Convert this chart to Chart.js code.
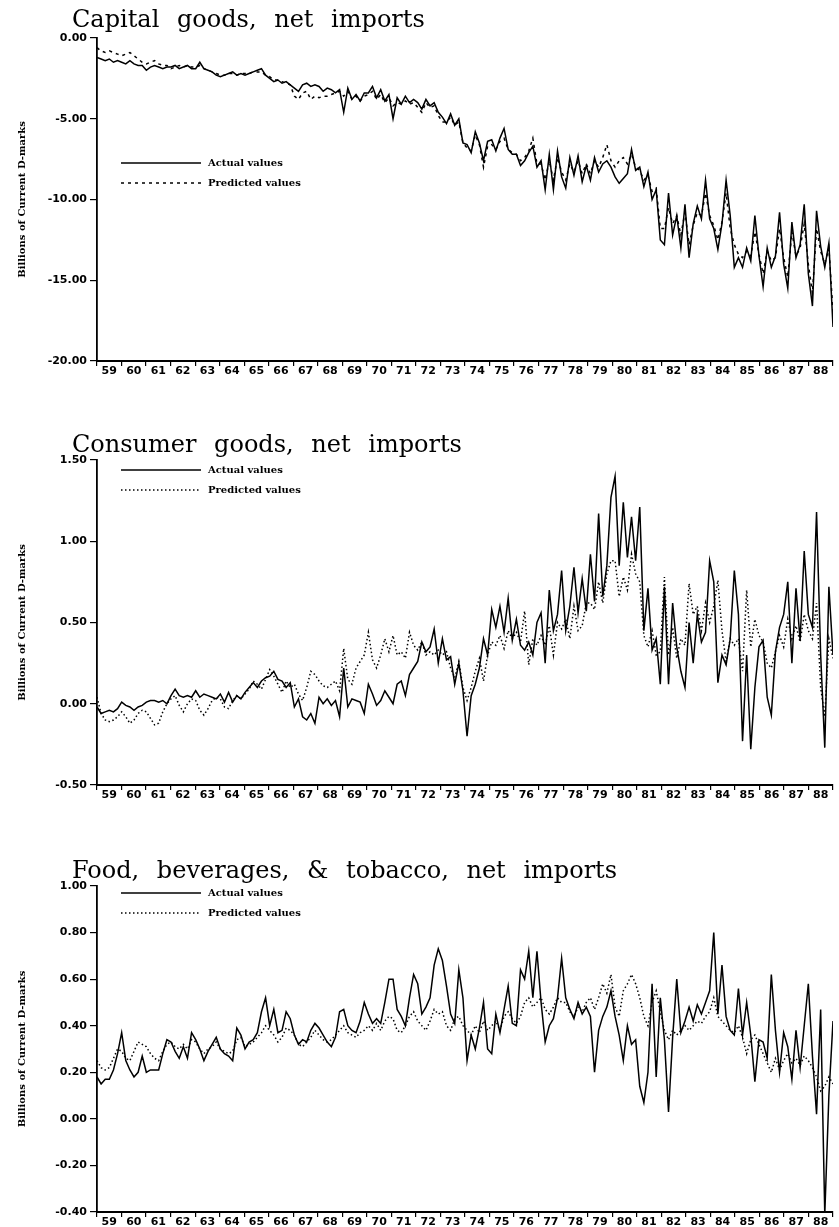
<!DOCTYPE html>
<html>
<head>
<meta charset="utf-8">
<title>Net imports: actual and predicted values</title>
<script src="https://cdn.jsdelivr.net/npm/chart.js@4.4.1/dist/chart.umd.min.js"></script>
<style>
  html, body { margin: 0; padding: 0; background: #fff; }
  #page { position: relative; width: 839px; height: 1227px; overflow: hidden; background: #fff; }
  .panel { position: absolute; left: 0; width: 839px; }
  canvas { display: block; }
</style>
</head>
<body>
<div id="page">
  <div class="panel" style="top:0"><canvas id="chartCapital" width="839" height="400"></canvas></div>
  <div class="panel" style="top:400px"><canvas id="chartConsumer" width="839" height="420"></canvas></div>
  <div class="panel" style="top:820px"><canvas id="chartFood" width="839" height="407"></canvas></div>
</div>
<script>
// Años del eje x (1959-1988), 6 lecturas por año
const firstYear = 1959;
const lastYear = 1989;
const yearTicks = ["59","60","61","62","63","64","65","66","67","68","69","70","71","72","73",
                   "74","75","76","77","78","79","80","81","82","83","84","85","86","87","88"];
const seriesLabels = ["Actual values", "Predicted values"];
const yAxisLabel = "Billions of Current D-marks";

// Capital goods (miles de millones DM)
const capTicks = [-20, -15, -10, -5, 0];
const capActual = [
  -1.2, -1.3, -1.4, -1.3, -1.5, -1.4,
  -1.5, -1.6, -1.4, -1.6, -1.7, -1.7,
  -2.0, -1.8, -1.7, -1.8, -1.9, -1.8,
  -1.8, -1.7, -1.9, -1.8, -1.7, -1.9,
  -1.9, -1.5, -1.9, -2.0, -2.1, -2.3,
  -2.4, -2.3, -2.2, -2.1, -2.3, -2.2,
  -2.3, -2.2, -2.1, -2.0, -1.9, -2.3,
  -2.5, -2.7, -2.6, -2.8, -2.7, -2.9,
  -3.1, -3.3, -2.9, -2.8, -3.0, -2.9,
  -3.0, -3.3, -3.1, -3.2, -3.4, -3.2,
  -4.6, -3.1, -3.8, -3.5, -3.9, -3.4,
  -3.4, -3.0, -3.7, -3.2, -3.9, -3.5,
  -5.0, -3.7, -4.1, -3.6, -4.0, -3.8,
  -4.0, -4.4, -3.8, -4.2, -4.0, -4.6,
  -4.9, -5.3, -4.7, -5.4, -5.0, -6.5,
  -6.6, -7.1, -5.8, -6.5, -7.6, -6.4,
  -6.3, -7.0, -6.2, -5.6, -6.9, -7.2,
  -7.2, -7.9, -7.6, -7.1, -6.7, -8.0,
  -7.6, -9.4, -7.2, -9.4, -7.0, -8.6,
  -9.3, -7.4, -8.5, -7.3, -8.9, -7.9,
  -8.8, -7.4, -8.3, -7.8, -7.6, -8.0,
  -8.6, -9.0, -8.7, -8.4, -6.9, -8.2,
  -8.0, -9.2, -8.3, -10.0, -9.4, -12.5,
  -12.8, -9.6, -12.2, -11.0, -13.0, -10.3,
  -13.6, -11.5, -10.4, -11.2, -8.8, -11.2,
  -11.8, -13.1, -11.5, -8.8, -11.0, -14.2,
  -13.6, -14.2, -13.0, -13.8, -11.0, -13.5,
  -15.4, -13.0, -14.2, -13.5, -10.8, -14.0,
  -15.5, -11.4, -13.6, -12.8, -10.3, -14.6,
  -16.6, -10.7, -12.9, -14.2, -12.7, -17.9
];
const capPredicted = [
  -0.6, -0.8, -0.9, -0.8, -0.9, -1.0,
  -1.1, -1.0, -0.9, -1.1, -1.3, -1.5,
  -1.6, -1.5, -1.4, -1.6, -1.7, -1.7,
  -1.9, -1.8, -1.7, -1.8, -1.7, -1.8,
  -1.8, -1.7, -1.9, -2.0, -2.1, -2.2,
  -2.3, -2.3, -2.2, -2.2, -2.3, -2.2,
  -2.2, -2.2, -2.1, -2.1, -2.1, -2.3,
  -2.4, -2.6, -2.6, -2.7, -2.8, -2.9,
  -3.6, -3.8, -3.4, -3.3, -3.8, -3.6,
  -3.7, -3.6, -3.6, -3.5, -3.4, -3.3,
  -3.6, -3.3, -3.8, -3.6, -3.9, -3.6,
  -3.5, -3.3, -3.8, -3.5, -4.0, -3.7,
  -4.2, -4.0, -4.1, -3.9, -4.1, -4.0,
  -4.3, -4.6, -4.0, -4.3, -4.2, -4.8,
  -5.2, -5.2, -4.9, -5.4, -5.2, -6.5,
  -6.8, -7.0, -6.0, -6.6, -8.0, -6.7,
  -6.6, -6.9, -6.4, -6.2, -6.9, -7.1,
  -7.2, -7.6, -7.4, -7.0, -6.2, -7.8,
  -7.8, -8.8, -7.6, -8.8, -7.4, -8.3,
  -8.8, -7.8, -8.3, -7.6, -8.4, -7.8,
  -8.4, -7.6, -8.0, -7.4, -6.6, -7.6,
  -8.0, -7.6, -7.4, -7.8, -7.2, -8.0,
  -8.2, -8.8, -8.5, -9.5, -9.3, -11.8,
  -11.8, -10.5, -11.5, -11.0, -12.2, -10.8,
  -12.8, -11.6, -10.8, -11.0, -9.6, -11.0,
  -11.6, -12.5, -11.4, -9.6, -11.8, -12.8,
  -13.4, -13.6, -13.2, -13.5, -12.0, -13.4,
  -14.6, -13.2, -13.8, -13.6, -11.8, -13.6,
  -14.8, -12.0, -13.5, -13.0, -11.5, -14.0,
  -15.8, -11.8, -13.2, -14.0, -13.0, -17.0
];

// Consumer goods
const conTicks = [-0.5, 0, 0.5, 1.0, 1.5];
const conActual = [
  -0.02, -0.06, -0.05, -0.04, -0.05, -0.03,
  0.01, -0.01, -0.02, -0.04, -0.02, -0.01,
  0.01, 0.02, 0.02, 0.01, 0.02, 0.00,
  0.05, 0.09, 0.05, 0.04, 0.05, 0.04,
  0.08, 0.04, 0.06, 0.05, 0.04, 0.03,
  0.06, 0.01, 0.07, 0.01, 0.05, 0.03,
  0.07, 0.10, 0.13, 0.10, 0.14, 0.16,
  0.17, 0.20, 0.15, 0.14, 0.10, 0.13,
  -0.02, 0.03, -0.08, -0.10, -0.06, -0.12,
  0.04, 0.00, 0.03, -0.01, 0.02, -0.08,
  0.22, -0.02, 0.03, 0.02, 0.01, -0.06,
  0.12, 0.06, -0.01, 0.02, 0.08, 0.04,
  0.00, 0.12, 0.14, 0.05, 0.18, 0.22,
  0.26, 0.38, 0.32, 0.35, 0.46, 0.25,
  0.40, 0.27, 0.29, 0.12, 0.25, 0.08,
  -0.20, 0.05, 0.12, 0.22, 0.40, 0.30,
  0.58, 0.47, 0.60, 0.44, 0.65, 0.39,
  0.52, 0.36, 0.33, 0.38, 0.30, 0.50,
  0.56, 0.25, 0.70, 0.45, 0.55, 0.82,
  0.45, 0.60, 0.84, 0.56, 0.77, 0.57,
  0.92, 0.63, 1.17, 0.66, 0.85, 1.27,
  1.40, 0.85, 1.24, 0.90, 1.15, 0.88,
  1.21, 0.45, 0.71, 0.33, 0.40, 0.12,
  0.72, 0.12, 0.62, 0.35, 0.20, 0.10,
  0.50, 0.25, 0.55, 0.38, 0.44, 0.88,
  0.75, 0.13, 0.30, 0.24, 0.40, 0.82,
  0.55, -0.23, 0.30, -0.28, 0.10, 0.35,
  0.39, 0.04, -0.07, 0.32, 0.47, 0.55,
  0.75, 0.25, 0.71, 0.39, 0.94, 0.55,
  0.47, 1.18, 0.30, -0.27, 0.72, 0.30
];
const conPredicted = [
  0.04, -0.06, -0.10, -0.11, -0.10, -0.08,
  -0.05, -0.08, -0.12, -0.10, -0.06, -0.04,
  -0.05, -0.09, -0.13, -0.12, -0.05, 0.00,
  0.03, 0.05, -0.01, -0.05, 0.00, 0.03,
  0.02, -0.04, -0.07, -0.03, 0.02, 0.04,
  0.03, -0.02, -0.03, 0.02, 0.05, 0.03,
  0.06, 0.09, 0.14, 0.12, 0.09, 0.15,
  0.21, 0.17, 0.12, 0.07, 0.14, 0.10,
  0.12, 0.06, 0.02, 0.10, 0.20, 0.18,
  0.14, 0.11, 0.10, 0.12, 0.14, 0.08,
  0.34, 0.15, 0.12, 0.22, 0.26, 0.30,
  0.44, 0.27, 0.22, 0.30, 0.40, 0.32,
  0.42, 0.30, 0.32, 0.28, 0.44, 0.36,
  0.33, 0.38, 0.30, 0.32, 0.30, 0.33,
  0.30, 0.32, 0.22, 0.16, 0.26, 0.10,
  0.02, 0.10, 0.20, 0.28, 0.14, 0.30,
  0.38, 0.36, 0.42, 0.34, 0.45, 0.40,
  0.44, 0.38, 0.57, 0.24, 0.40, 0.36,
  0.42, 0.36, 0.48, 0.30, 0.50, 0.46,
  0.52, 0.40, 0.60, 0.45, 0.48, 0.62,
  0.62, 0.58, 0.75, 0.62, 0.80, 0.88,
  0.88, 0.66, 0.78, 0.70, 0.92, 0.80,
  0.75, 0.42, 0.35, 0.45, 0.30, 0.32,
  0.78, 0.30, 0.47, 0.28, 0.40, 0.36,
  0.74, 0.55, 0.60, 0.45, 0.62, 0.50,
  0.60, 0.76, 0.45, 0.26, 0.40, 0.36,
  0.40, 0.20, 0.70, 0.35, 0.52, 0.42,
  0.38, 0.25, 0.22, 0.32, 0.42, 0.35,
  0.52, 0.40, 0.48, 0.38, 0.55, 0.45,
  0.40, 0.62, 0.10, -0.08, 0.40, 0.28
];

// Food, beverages & tobacco
const foodTicks = [-0.4, -0.2, 0, 0.2, 0.4, 0.6, 0.8, 1.0];
const foodActual = [
  0.18, 0.15, 0.17, 0.17, 0.21, 0.28,
  0.37, 0.25, 0.21, 0.18, 0.20, 0.27,
  0.20, 0.21, 0.21, 0.21, 0.28, 0.34,
  0.33, 0.29, 0.26, 0.31, 0.26, 0.37,
  0.34, 0.30, 0.25, 0.29, 0.32, 0.35,
  0.30, 0.28, 0.27, 0.25, 0.39, 0.36,
  0.30, 0.33, 0.34, 0.37, 0.46, 0.52,
  0.40, 0.47, 0.37, 0.38, 0.46, 0.43,
  0.36, 0.32, 0.34, 0.33, 0.38, 0.41,
  0.39, 0.36, 0.33, 0.31, 0.35, 0.46,
  0.47, 0.40, 0.38, 0.37, 0.42, 0.50,
  0.45, 0.41, 0.43, 0.41, 0.50, 0.60,
  0.60, 0.47, 0.44, 0.40, 0.52, 0.62,
  0.58, 0.45, 0.48, 0.52, 0.66, 0.73,
  0.68, 0.57, 0.45, 0.41, 0.64, 0.52,
  0.25, 0.36, 0.30, 0.39, 0.50, 0.30,
  0.28, 0.45, 0.37, 0.47, 0.57, 0.41,
  0.40, 0.64, 0.60, 0.72, 0.52, 0.72,
  0.50, 0.33, 0.40, 0.43, 0.52, 0.69,
  0.52, 0.47, 0.43, 0.50, 0.45, 0.48,
  0.44, 0.20, 0.38, 0.44, 0.48, 0.55,
  0.44, 0.36, 0.25, 0.40, 0.32, 0.34,
  0.14, 0.07, 0.20, 0.58, 0.18, 0.52,
  0.34, 0.03, 0.35, 0.60, 0.37, 0.42,
  0.48, 0.42, 0.49, 0.45, 0.50, 0.55,
  0.80, 0.45, 0.66, 0.44, 0.38, 0.36,
  0.56, 0.36, 0.50, 0.36, 0.16, 0.34,
  0.33, 0.26, 0.62, 0.38, 0.20, 0.37,
  0.31, 0.17, 0.38, 0.22, 0.40, 0.58,
  0.27, 0.02, 0.47, -0.41, 0.10, 0.42
];
const foodPredicted = [
  0.25, 0.22, 0.21, 0.22, 0.26, 0.30,
  0.29, 0.26, 0.25, 0.29, 0.33, 0.32,
  0.31, 0.28, 0.26, 0.25, 0.29, 0.32,
  0.33, 0.31, 0.30, 0.32, 0.30, 0.34,
  0.33, 0.30, 0.28, 0.30, 0.31, 0.33,
  0.30, 0.29, 0.28, 0.29, 0.34, 0.35,
  0.31, 0.32, 0.33, 0.35, 0.37, 0.40,
  0.38, 0.36, 0.33, 0.35, 0.39, 0.38,
  0.36, 0.32, 0.31, 0.33, 0.35, 0.38,
  0.36, 0.34, 0.33, 0.34, 0.36, 0.38,
  0.40, 0.37, 0.36, 0.35, 0.37, 0.38,
  0.40, 0.38, 0.41, 0.38, 0.42, 0.44,
  0.43, 0.38, 0.37, 0.40, 0.44, 0.46,
  0.42, 0.40, 0.38, 0.42, 0.47, 0.45,
  0.46, 0.40, 0.38, 0.43, 0.44, 0.40,
  0.38, 0.36, 0.40, 0.37, 0.42, 0.38,
  0.40, 0.42, 0.38, 0.44, 0.46, 0.43,
  0.41, 0.44, 0.50, 0.52, 0.48, 0.50,
  0.52, 0.47, 0.45, 0.48, 0.52, 0.50,
  0.50, 0.46, 0.44, 0.48, 0.46, 0.50,
  0.52, 0.47, 0.52, 0.58, 0.54, 0.62,
  0.48, 0.44, 0.55, 0.58, 0.62, 0.58,
  0.52, 0.44, 0.40, 0.50, 0.55, 0.46,
  0.38, 0.34, 0.38, 0.36, 0.38, 0.40,
  0.38, 0.40, 0.42, 0.41, 0.44, 0.46,
  0.52, 0.44, 0.42, 0.40, 0.38, 0.37,
  0.40, 0.35, 0.28, 0.34, 0.36, 0.32,
  0.28, 0.24, 0.20, 0.26, 0.21, 0.25,
  0.28, 0.24, 0.26, 0.23, 0.27, 0.25,
  0.22, 0.18, 0.12, 0.14, 0.18, 0.15
];

// Puntos sobre el eje temporal
function toPoints(values) {
  const n = values.length;
  return values.map((v, i) => ({ x: firstYear + (lastYear - firstYear) * i / (n - 1), y: v }));
}

// Etiqueta del eje y con dos decimales (sin "-0.00")
function fmtTick(v) {
  const n = Math.abs(v) < 1e-9 ? 0 : Number(v);
  return n.toFixed(2);
}

// Título y leyenda dibujados dentro del canvas
const paperDecor = {
  id: "paperDecor",
  afterDraw(chart, args, opts) {
    const ctx = chart.ctx;
    ctx.save();
    ctx.fillStyle = "#000";
    ctx.textAlign = "left";
    ctx.textBaseline = "alphabetic";
    ctx.font = '24px "DejaVu Serif"';
    if ("wordSpacing" in ctx) ctx.wordSpacing = opts.wordSpacing + "px";
    ctx.fillText(opts.title, opts.titleX, opts.titleY);
    if ("wordSpacing" in ctx) ctx.wordSpacing = "0px";

    ctx.font = 'bold 10px "DejaVu Serif"';
    ctx.textBaseline = "middle";
    chart.data.datasets.forEach((ds, i) => {
      const y = opts.legendY + i * opts.legendGap;
      ctx.beginPath();
      ctx.strokeStyle = "#000";
      ctx.lineWidth = ds.borderWidth;
      ctx.setLineDash(ds.borderDash || []);
      ctx.moveTo(opts.legendX, y);
      ctx.lineTo(opts.legendX + 80, y);
      ctx.stroke();
      ctx.setLineDash([]);
      ctx.fillText(ds.label, opts.legendX + 87, y);
    });
    ctx.restore();
  }
};

function makePanel(canvasId, cfg) {
  const ctx = document.getElementById(canvasId).getContext("2d");
  const ticks = cfg.ticks;
  return new Chart(ctx, {
    type: "line",
    data: {
      datasets: [
        {
          label: seriesLabels[0],
          data: toPoints(cfg.actual),
          borderColor: "#000",
          borderWidth: 1.5,
          pointRadius: 0,
          tension: 0
        },
        {
          label: seriesLabels[1],
          data: toPoints(cfg.predicted),
          borderColor: "#000",
          borderWidth: 1.5,
          borderDash: cfg.dash,
          pointRadius: 0,
          tension: 0
        }
      ]
    },
    options: {
      responsive: false,
      animation: false,
      layout: { padding: { left: 0, right: 6, top: cfg.top, bottom: cfg.bottom } },
      plugins: {
        legend: { display: false },
        tooltip: { enabled: false },
        paperDecor: {
          title: cfg.title,
          titleX: 72,
          titleY: cfg.titleY,
          wordSpacing: 10,
          legendX: 121,
          legendY: cfg.legendY,
          legendGap: 20
        }
      },
      scales: {
        x: {
          type: "linear",
          min: firstYear,
          max: lastYear,
          afterFit: s => { s.height = 15; },
          border: { display: true, color: "#000", width: 2 },
          grid: { display: true, drawOnChartArea: false, drawTicks: true, tickLength: 5, color: "#000", lineWidth: 1.2 },
          ticks: {
            stepSize: 1,
            autoSkip: false,
            maxRotation: 0,
            labelOffset: 12.27,
            padding: -1,
            color: "#000",
            font: { family: "DejaVu Sans", weight: "bold", size: 11 },
            callback: v => yearTicks[v - firstYear] || ""
          }
        },
        y: {
          min: ticks[0],
          max: ticks[ticks.length - 1],
          afterFit: s => { s.width = 97; },
          border: { display: true, color: "#000", width: 1.8 },
          grid: { display: true, drawOnChartArea: false, drawTicks: true, tickLength: 7, color: "#000", lineWidth: 1.2 },
          ticks: {
            stepSize: ticks[1] - ticks[0],
            padding: 3,
            color: "#000",
            font: { family: "DejaVu Sans", weight: "bold", size: 11 },
            callback: fmtTick
          },
          title: {
            display: true,
            text: yAxisLabel,
            color: "#000",
            font: { family: "DejaVu Serif", weight: "bold", size: 10 },
            padding: { top: 16, bottom: 0 }
          }
        }
      }
    },
    plugins: [paperDecor]
  });
}

makePanel("chartCapital", {
  title: "Capital goods, net imports", titleY: 27,
  actual: capActual, predicted: capPredicted, ticks: capTicks,
  dash: [3, 4], top: 38, bottom: 24, legendY: 163
});
makePanel("chartConsumer", {
  title: "Consumer goods, net imports", titleY: 52,
  actual: conActual, predicted: conPredicted, ticks: conTicks,
  dash: [1.5, 2.5], top: 60, bottom: 20, legendY: 70
});
makePanel("chartFood", {
  title: "Food, beverages, & tobacco, net imports", titleY: 58,
  actual: foodActual, predicted: foodPredicted, ticks: foodTicks,
  dash: [1.5, 2.5], top: 66, bottom: 0, legendY: 73
});
</script>
</body>
</html>
